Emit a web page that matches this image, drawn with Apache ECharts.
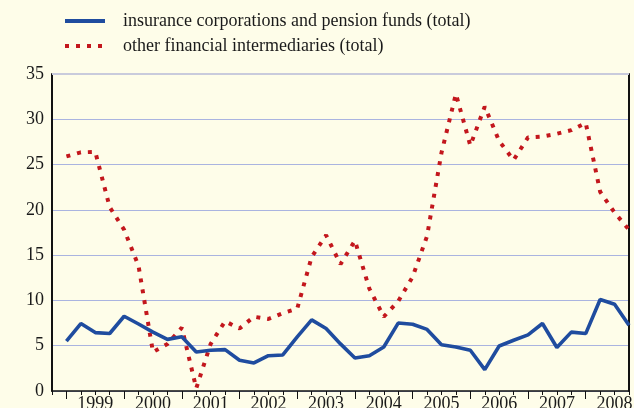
<!DOCTYPE html>
<html>
<head>
<meta charset="utf-8">
<script src="https://cdn.jsdelivr.net/npm/echarts@6/dist/echarts.min.js"></script>
<style>
  html, body { margin: 0; padding: 0; background: #fefde9; }
  #chart { width: 634px; height: 408px; }
</style>
</head>
<body>
<div id="chart"></div>
<script>
// Quarterly series, first observation 1999 Q1
const startYear = 1999;
const seriesNames = [
  'insurance corporations and pension funds (total)',
  'other financial intermediaries (total)'
];
const insurancePension = [
  5.5, 7.45, 6.45, 6.35, 8.25, 7.4, 6.5, 5.7,
  6.0, 4.3, 4.5, 4.57, 3.4, 3.1, 3.9, 3.98,
  5.97, 7.85, 6.9, 5.2, 3.65, 3.9, 4.86, 7.5,
  7.37, 6.8, 5.1, 4.86, 4.5, 2.36, 4.97, 5.6,
  6.2, 7.45, 4.8, 6.5, 6.34, 10.1, 9.58, 7.26
];
const otherFinancial = [
  25.9, 26.35, 26.4, 20.3, 17.8, 13.8, 4.3, 5.2,
  7.0, 0.3, 5.2, 7.7, 6.9, 8.2, 7.95, 8.6,
  9.1, 14.8, 17.2, 14.0, 16.6, 11.3, 8.2, 9.9,
  12.6, 17.1, 26.3, 32.8, 27.1, 31.4, 27.6, 25.5,
  28.0, 28.1, 28.4, 28.8, 29.6, 22.0, 19.7, 17.8
];
const yearTicks = [1999, 2000, 2001, 2002, 2003, 2004, 2005, 2006, 2007, 2008];
const yTicks = [0, 5, 10, 15, 20, 25, 30, 35];

const toPairs = vals => vals.map((v, i) => [startYear + i / 4, v]);

const serif = '"Liberation Serif", "DejaVu Serif", serif';
const xMin = 1998.75, xMax = 2008.75;

const chart = echarts.init(document.getElementById('chart'));
chart.setOption({
  backgroundColor: '#fefde9',
  animation: false,
  grid: { left: 52, right: 5, top: 74, bottom: 17, outerBoundsMode: 'none', containLabel: false },
  legend: {
    orient: 'vertical',
    left: 58,
    top: 7,
    itemWidth: 40,
    itemHeight: 14,
    itemGap: 7,
    itemStyle: { opacity: 0 },
    lineStyle: { width: 4 },
    textStyle: { fontFamily: serif, fontSize: 18, color: '#1a1a1a', padding: [0, 0, 0, 13] },
    data: seriesNames
  },
  xAxis: [
    {
      type: 'value', min: xMin, max: xMax, interval: 0.25, position: 'bottom',
      axisLine: { show: true, lineStyle: { color: '#111', width: 1.5 } },
      axisTick: { show: true, length: 4, lineStyle: { color: '#111', width: 1 } },
      axisLabel: { show: false },
      splitLine: { show: false }
    },
    {
      type: 'value', min: xMin, max: xMax, position: 'bottom',
      axisLine: { show: false },
      axisTick: { show: true, length: 8, customValues: yearTicks, lineStyle: { color: '#111', width: 1 } },
      axisLabel: {
        show: true, margin: 4,
        customValues: yearTicks.map(y => y + 0.5),
        formatter: v => String(Math.floor(v)),
        fontFamily: serif, fontSize: 18, color: '#1a1a1a'
      },
      splitLine: { show: false }
    }
  ],
  yAxis: [
    {
      type: 'value', min: 0, max: 35, interval: 5,
      axisLine: { show: true, lineStyle: { color: '#111', width: 2 } },
      axisTick: { show: false },
      axisLabel: { margin: 8, fontFamily: serif, fontSize: 18, color: '#1a1a1a' },
      splitLine: { show: true, lineStyle: { color: '#aab4e0', width: 1.2 } }
    },
    {
      type: 'value', min: 0, max: 35, interval: 5, position: 'right',
      axisLine: { show: true, lineStyle: { color: '#111', width: 2 } },
      axisTick: { show: false },
      axisLabel: { show: false },
      splitLine: { show: false }
    }
  ],
  series: [
    {
      name: seriesNames[0],
      type: 'line',
      data: toPairs(insurancePension),
      showSymbol: false,
      symbol: 'none',
      lineStyle: { color: '#1f4c9f', width: 3.6 },
      itemStyle: { color: '#1f4c9f' },
      z: 3,
      markLine: {
        silent: true, symbol: 'none', label: { show: false },
        lineStyle: { color: '#c9cbdc', width: 2, type: 'solid' },
        data: [{ yAxis: yTicks[yTicks.length - 1] }]
      }
    },
    {
      name: seriesNames[1],
      type: 'line',
      data: toPairs(otherFinancial),
      showSymbol: false,
      symbol: 'none',
      lineStyle: { color: '#c3171d', width: 4, type: [4, 7], cap: 'butt' },
      itemStyle: { color: '#c3171d' },
      z: 2
    }
  ]
});
</script>
</body>
</html>
